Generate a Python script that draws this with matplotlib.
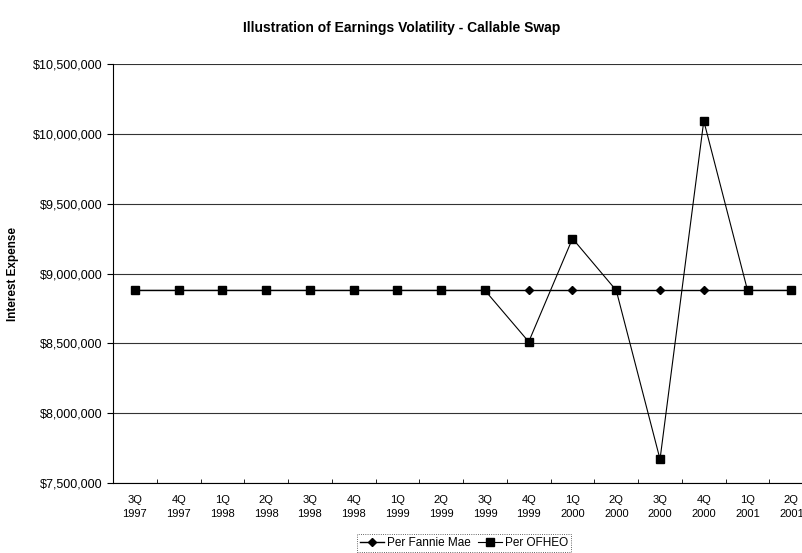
import numpy as np
import matplotlib.pyplot as plt
from matplotlib.ticker import FuncFormatter

quarters = ['3Q\n1997', '4Q\n1997', '1Q\n1998', '2Q\n1998', '3Q\n1998', '4Q\n1998',
            '1Q\n1999', '2Q\n1999', '3Q\n1999', '4Q\n1999', '1Q\n2000', '2Q\n2000',
            '3Q\n2000', '4Q\n2000', '1Q\n2001', '2Q\n2001']
fannie_mae = [8880000] * 16
ofheo = [8880000, 8880000, 8880000, 8880000, 8880000, 8880000, 8880000, 8880000,
         8880000, 8512000, 9252000, 8880000, 7670000, 10095000, 8880000, 8880000]

plt.rcParams['font.family'] = ['Liberation Sans', 'DejaVu Sans']

fig = plt.figure(figsize=(8.03, 5.53), dpi=100)
ax = fig.add_axes([0.1407, 0.1266, 0.872, 0.757])

x = np.arange(len(quarters))
ax.plot(x, fannie_mae, color='black', lw=1.0, marker='D', ms=4, label='Per Fannie Mae')
ax.plot(x, ofheo, color='black', lw=0.8, marker='s', ms=5.5, label='Per OFHEO')

ax.set_ylim(7500000, 10500000)
ax.set_xlim(-0.5, len(quarters) - 0.5)
ax.set_yticks(np.arange(7500000, 10500001, 500000))
ax.yaxis.set_major_formatter(FuncFormatter(lambda v, p: '${:,.0f}'.format(v)))
ax.set_xticks(x)
ax.set_xticklabels(quarters, linespacing=1.5)
ax.set_xticks(np.arange(-0.5, len(quarters), 1), minor=True)
ax.tick_params(axis='x', which='major', length=0, pad=9, labelsize=8)
ax.tick_params(axis='x', which='minor', length=3, direction='in')
ax.tick_params(axis='y', length=4, labelsize=9)
ax.grid(axis='y', color='#333333', lw=0.8)
ax.set_axisbelow(True)
for s in ['top', 'right']:
    ax.spines[s].set_visible(False)
ax.spines['left'].set_linewidth(0.8)
ax.spines['bottom'].set_linewidth(0.8)

ax.set_ylabel('Interest Expense', fontsize=8.5, fontweight='bold', labelpad=10)
fig.text(0.5, 0.95, 'Illustration of Earnings Volatility - Callable Swap',
         ha='center', va='center', fontsize=10, fontweight='bold')

leg = fig.legend(loc='center', bbox_to_anchor=(0.578, 0.018), ncol=2, fontsize=8.5,
                 frameon=True, fancybox=False, edgecolor='black', handlelength=2,
                 columnspacing=0.6, handletextpad=0.3, borderpad=0.25)
leg.get_frame().set_linewidth(0.6)
leg.get_frame().set_linestyle(':')

fig.savefig('out.png', dpi=100)
